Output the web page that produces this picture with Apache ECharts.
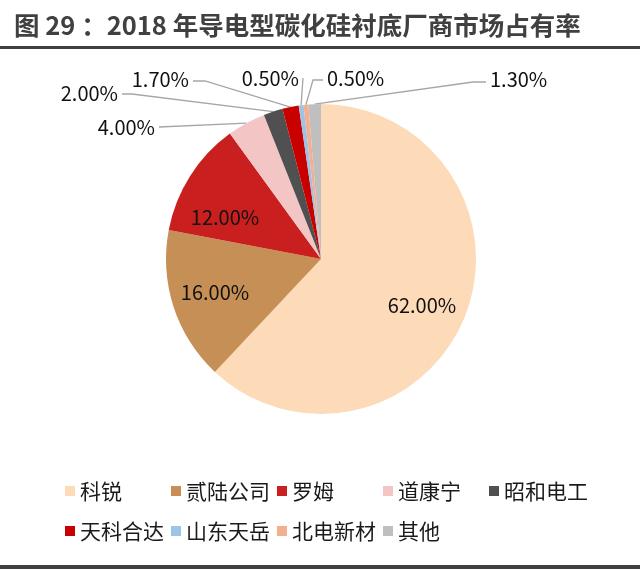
<!doctype html>
<html>
<head>
<meta charset="utf-8">
<title>2018 年导电型碳化硅衬底厂商市场占有率</title>
<script src="https://cdn.jsdelivr.net/npm/echarts@6/dist/echarts.min.js"></script>
<style>
    html, body { margin: 0; padding: 0; background: #fff; }
    #chart { width: 640px; height: 571px; }
</style>
</head>
<body>
<div id="chart"></div>
<script>
var makers = ['科锐', '贰陆公司', '罗姆', '道康宁', '昭和电工', '天科合达', '山东天岳', '北电新材', '其他'];
var shares = [62.0, 16.0, 12.0, 4.0, 2.0, 1.7, 0.5, 0.5, 1.3];
var sliceColors = ['#FDDAB8', '#C68F55', '#C9201F', '#F4C5C5', '#505050', '#C80000', '#9DC3E6', '#F4AE90', '#BFBFBF'];

// the three big slices carry their label inside, the rest get callouts
var insideCount = 3;

// where the labels sit in the original (x, y, align) and the bend of each leader line
var labelSpots = [
    [422, 305, 'center'], [215, 292, 'center'], [225, 217, 'center'],
    [155, 127, 'right'], [118, 93, 'right'], [189, 79, 'right'],
    [299, 78, 'right'], [327, 78, 'left'], [490, 79, 'left']
];
var elbows = [null, null, null, null, [132, 94], [205, 81], null, [313, 80], [473, 82]];

var font = '"Noto Sans CJK SC", "Noto Sans", sans-serif';
var legendCols = 5;

var pieData = makers.map(function (name, i) {
    var inside = i < insideCount;
    return {
        name: name,
        value: shares[i],
        itemStyle: { color: sliceColors[i] },
        label: { position: inside ? 'inside' : 'outside' },
        labelLine: { show: !inside }
    };
});

var chart = echarts.init(document.getElementById('chart'), null, { renderer: 'canvas' });

// one vertical legend per column, so the two rows line up as a grid
var legends = [];
for (var c = 0; c < legendCols; c++) {
    var names = makers.filter(function (n, i) { return i % legendCols === c; });
    legends.push({
        data: names,
        left: 65 + c * 106,
        top: 480,
        orient: 'vertical',
        padding: 0,
        itemWidth: 10,
        itemHeight: 10,
        itemGap: 18,
        icon: 'rect',
        selectedMode: false,
        textStyle: { fontFamily: font, fontSize: 21, lineHeight: 22, color: '#1a1a1a' }
    });
}

chart.setOption({
    animation: false,
    title: {
        text: '图 29 ：2018 年导电型碳化硅衬底厂商市场占有率',
        left: 14,
        top: 13,
        padding: 0,
        textStyle: { fontFamily: font, fontSize: 25.5, fontWeight: 'bold', color: '#404040' }
    },
    graphic: [
        { type: 'rect', shape: { x: 0, y: 46, width: 640, height: 3 }, style: { fill: '#404040' } },
        { type: 'rect', shape: { x: 0, y: 565, width: 640, height: 4 }, style: { fill: '#404040' } }
    ],
    legend: legends,
    series: [{
        type: 'pie',
        center: [321, 259],
        radius: 155,
        startAngle: 90,
        clockwise: true,
        avoidLabelOverlap: false,
        itemStyle: { borderWidth: 0 },
        label: {
            fontFamily: font,
            fontSize: 20,
            color: '#111',
            formatter: function (p) { return p.value.toFixed(2) + '%'; }
        },
        labelLine: {
            length: 20,
            length2: 10,
            lineStyle: { color: '#A6A6A6', width: 1.3 }
        },
        labelLayout: function (params) {
            var i = params.dataIndex;
            var spot = labelSpots[i];
            var out = { x: spot[0], y: spot[1], align: spot[2], verticalAlign: 'middle' };
            if (i >= insideCount && params.labelLinePoints) {
                var edge = params.labelLinePoints[0];
                var endX = spot[2] === 'right' ? spot[0] + 4 : spot[0] - 4;
                var pts = [[edge[0], edge[1]]];
                if (elbows[i]) pts.push(elbows[i]);
                pts.push([endX, elbows[i] ? elbows[i][1] : spot[1]]);
                out.labelLinePoints = pts;
            }
            return out;
        },
        data: pieData
    }]
});
</script>
</body>
</html>
